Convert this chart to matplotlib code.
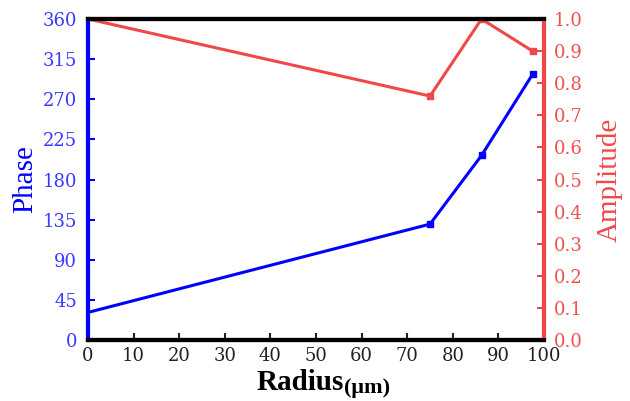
import numpy as np
import matplotlib.pyplot as plt

plt.rcParams['font.family'] = ['Liberation Serif', 'DejaVu Serif']

radius = [0, 75, 86.3, 97.5]
phase = [31, 130, 207, 298]
amplitude = [1.0, 0.76, 1.0, 0.9]
amp_ticks = np.arange(0, 1.01, 0.1)

blue = '#0000ff'
red = '#f04848'

fig = plt.figure(figsize=(6.3, 4.01), dpi=100)
ax = fig.add_axes([0.1397, 0.152, 0.7238, 0.8006])
ax2 = ax.twinx()

ax.plot(radius, phase, color=blue, lw=2.2, marker='s', ms=4.5, markevery=[1, 2, 3])
ax2.plot(radius, amplitude, color=red, lw=2.2, marker='s', ms=4.5, markevery=[1, 2, 3])

ax.set_xlim(0, 100)
ax.set_ylim(0, 360)
ax2.set_ylim(0, 1.0)
ax.set_xticks(np.arange(0, 101, 10))
ax.set_yticks(np.arange(0, 361, 45))
ax2.set_yticks(amp_ticks)
ax2.set_yticklabels([f'{v:.1f}' for v in amp_ticks])

for a in (ax, ax2):
    a.spines['top'].set_linewidth(3)
    a.spines['bottom'].set_linewidth(3)
    a.spines['top'].set_color('black')
    a.spines['bottom'].set_color('black')
ax.spines['left'].set_color(blue)
ax.spines['left'].set_linewidth(3)
ax2.spines['right'].set_color(red)
ax2.spines['right'].set_linewidth(3)
ax2.spines['left'].set_visible(False)
ax.spines['right'].set_visible(False)

tick_font = 'DejaVu Serif'
ax.tick_params(axis='x', direction='in', length=5, width=1.5, labelsize=13, colors='#222222', pad=5)
ax.tick_params(axis='y', direction='in', length=5, width=1.5, labelsize=13, colors=blue, labelcolor='#3a3aff', pad=8)
ax2.tick_params(axis='y', direction='in', length=5, width=1.5, labelsize=13, colors=red, labelcolor='#f05050', pad=7)
for lab in ax.get_xticklabels() + ax.get_yticklabels() + ax2.get_yticklabels():
    lab.set_family(tick_font)

ax.set_ylabel('Phase', color=blue, fontsize=21, labelpad=3)
ax2.set_ylabel('Amplitude', color=red, fontsize=21, labelpad=10)

fig.text(344 / 630, 0.012, 'Radius', fontsize=21, fontweight='bold', ha='right', va='bottom')
fig.text(344 / 630, 0.008, '(μm)', fontsize=16, fontweight='bold', ha='left', va='bottom')

fig.savefig('out.png', dpi=100)
